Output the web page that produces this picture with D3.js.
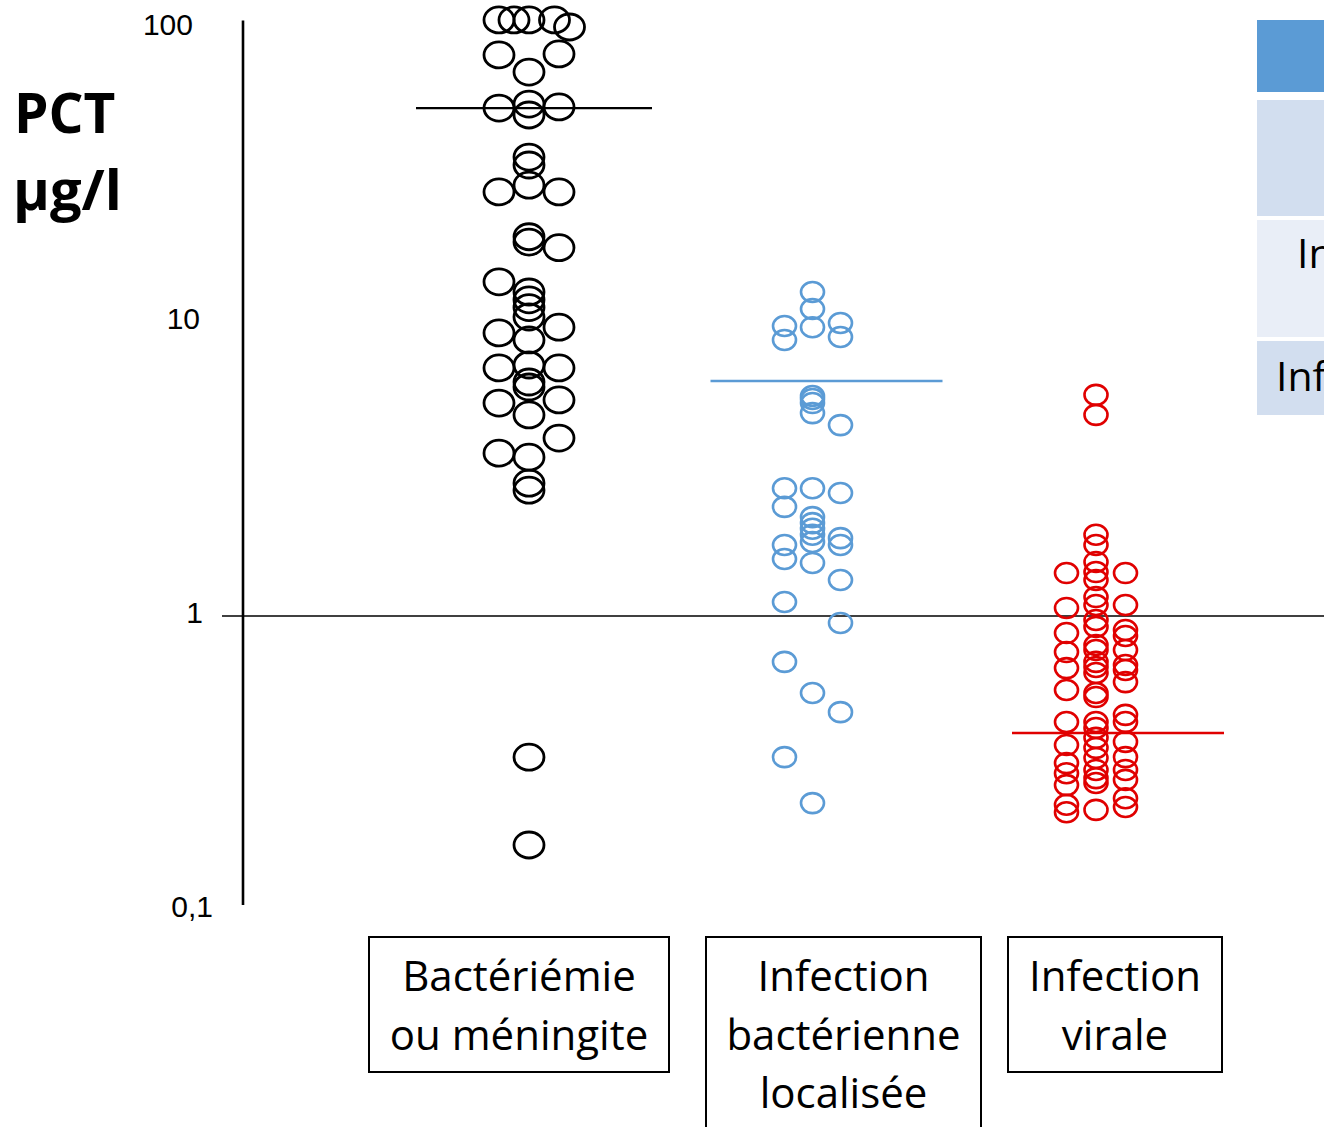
<!DOCTYPE html>
<html><head><meta charset="utf-8">
<script src="https://cdn.jsdelivr.net/npm/d3@7"></script>
<style>html,body{margin:0;padding:0;background:#fff;overflow:hidden}</style>
</head><body>
<svg id="c" width="1324" height="1127"></svg>
<script>
// ---------- DATA ----------
const categories = ["Bactériémie ou méningite", "Infection bactérienne localisée", "Infection virale"];
const categoryLines = [["Bactériémie", "ou méningite"], ["Infection", "bactérienne", "localisée"], ["Infection", "virale"]];
const tickValues = [0.1, 1, 10, 100];
const tickLabels = ["0,1", "1", "10", "100"];
const yTitle = ["PCT", "µg/l"];

// PCT values (µg/l) and column slot within the swarm
const bactValues = [106.5,106.5,106.5,106.5,100.8, 81,81.6,70.8, 53.4,55.1,50.6,53.9,
  36.4,34.2,29.2,27.7,27.7, 19.5,18.7,17.9, 13.7,12.65,11.9,11.2,10.4,9.6,9.18,8.69,
  7.14,6.98,6.98,6.25,6.01, 5.43,5.30,4.83, 4.03,3.58,3.47, 2.83,2.68, 0.331,0.1664];
const bactSlots = [-1,-0.5,0,0.85,1.35, -1,1,0, -1,0,0,1,
  0,0,0,-1,1, 0,0,1, -1,0,0,0,0,1,-1,0,
  0,-1,1,0,0, 1,-1,0, 1,-1,0, 0,0, 0,0];

const locValues = [12.65,11.07,9.6,9.69,8.69,9.92,8.89, 5.60,5.47,5.30,4.90,4.46,
  2.72,2.72,2.62,2.35, 2.17,2.07,1.98,1.89,1.785, 1.84,1.744,1.744,1.563,1.515,1.326,
  1.116,0.947,0.698,0.547,0.471,0.331,0.231];
const locSlots = [0,0,0,-1,-1,1,1, 0,0,0,0,1,
  -1,0,1,-1, 0,0,0,0,0, 1,1,-1,-1,0,1,
  -1,1,-1,0,1,-1,0];

const viralLeft = [1.40,1.065,0.875,0.754,0.665,0.560,0.436,0.364,0.316,0.292,0.266,0.228,0.215];
const viralMid = [5.65,4.83,1.89,1.744,1.527,1.411,1.326,1.16,1.09,0.969,0.918,0.797,0.766,0.698,
  0.671,0.640,0.547,0.530,0.436,0.416,0.385,0.356,0.329,0.2995,0.281,0.2704,0.219];
const viralRight = [1.40,1.09,0.896,0.855,0.766,0.681,0.655,0.596,0.461,0.436,0.373,0.331,0.2995,0.277,0.240,0.224];

const medians = [53.4, 6.30, 0.40];
const tableRows = ["", "", "Infection", "Infection"];

// ---------- LAYOUT / STYLE ----------
const colors = ["#000000", "#5b9bd5", "#e00000"];
const svg = d3.select("#c");
const y = d3.scaleLog().domain([0.1, 100]).range([910, 28]);
const x = d3.scalePoint().domain(categories).range([529, 1096]);
const slotStep = [30, 28, 29.5];
const radii = [[15, 13], [11.5, 10], [11.5, 10]];
const strokeW = [2.8, 2.6, 2.6];
const medianExt = [[-113, 123], [-102, 130], [-84, 128]];
const font = "'Open Sans', 'Noto Sans', sans-serif";

const groups = [
  bactValues.map((v, i) => ({v, s: bactSlots[i]})),
  locValues.map((v, i) => ({v, s: locSlots[i]})),
  [].concat(viralLeft.map(v => ({v, s: -1})), viralMid.map(v => ({v, s: 0})), viralRight.map(v => ({v, s: 1})))
];

// Table (partially visible at right edge, clipped as in the reference)
const tblRects = [[20, 92, "#5b9bd5"], [100, 216, "#d2deef"], [220, 337, "#e9eef7"], [341, 415, "#d2deef"]];
tblRects.forEach(([a, b, c]) => svg.append("rect").attr("x", 1257).attr("y", a).attr("width", 80).attr("height", b - a).attr("fill", c));
svg.append("text").attr("x", 1297).attr("y", 268).attr("font-family", font).attr("font-size", 41).attr("fill", "#000").text(tableRows[2]);
svg.append("text").attr("x", 1276).attr("y", 391).attr("font-family", font).attr("font-size", 41).attr("fill", "#000").text(tableRows[3]);

// Reference line at 1
svg.append("line").attr("x1", 222).attr("x2", 1324).attr("y1", y(1)).attr("y2", y(1))
  .attr("stroke", "#000").attr("stroke-width", 1.3);

// Axis
const axisX = 243;
svg.append("line").attr("x1", axisX).attr("x2", axisX).attr("y1", y(106)).attr("y2", y(0.104))
  .attr("stroke", "#000").attr("stroke-width", 2.6);
const tickEnd = [213, 203, 200, 193];
tickValues.forEach((t, i) => {
  svg.append("text").attr("x", tickEnd[i]).attr("y", y(t) - 4).attr("dy", "0.35em")
    .attr("text-anchor", "end").attr("font-family", "'Liberation Sans', Arial, sans-serif")
    .attr("font-size", 30).attr("fill", "#000").text(tickLabels[i]);
});

// Y title
svg.append("text").attr("x", 14).attr("y", 133).attr("font-family", font).attr("font-weight", 700)
  .attr("font-size", 55).text(yTitle[0]);
svg.append("text").attr("x", 13).attr("y", 210).attr("font-family", font).attr("font-weight", 700)
  .attr("font-size", 56).text(yTitle[1]);

// Points
groups.forEach((g, gi) => {
  svg.append("g").selectAll("ellipse").data(g).join("ellipse")
    .attr("cx", d => x(categories[gi]) + d.s * slotStep[gi])
    .attr("cy", d => y(d.v))
    .attr("rx", radii[gi][0]).attr("ry", radii[gi][1])
    .attr("fill", "none").attr("stroke", colors[gi]).attr("stroke-width", strokeW[gi]);
});

// Median lines
medians.forEach((m, gi) => {
  svg.append("line")
    .attr("x1", x(categories[gi]) + medianExt[gi][0]).attr("x2", x(categories[gi]) + medianExt[gi][1])
    .attr("y1", y(m)).attr("y2", y(m))
    .attr("stroke", colors[gi]).attr("stroke-width", 2.4);
});

// Category label boxes
const boxes = [[369, 669, 1072], [706, 981, 1140], [1008, 1222, 1072]];
const lineBase = [991, 1050, 1108];
categoryLines.forEach((lines, i) => {
  const [x0, x1, y1] = boxes[i];
  svg.append("rect").attr("x", x0).attr("y", 937).attr("width", x1 - x0).attr("height", y1 - 937)
    .attr("fill", "none").attr("stroke", "#000").attr("stroke-width", 2);
  lines.forEach((l, j) => {
    svg.append("text").attr("x", (x0 + x1) / 2).attr("y", lineBase[j]).attr("text-anchor", "middle")
      .attr("font-family", font).attr("font-size", 42).attr("fill", "#000").text(l);
  });
});
</script>
</body></html>
